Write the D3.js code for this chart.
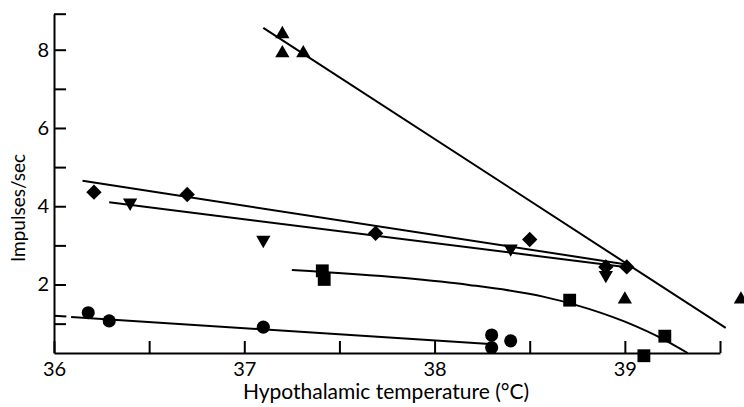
<!DOCTYPE html>
<html>
<head>
<meta charset="utf-8">
<script src="https://cdn.jsdelivr.net/npm/d3@7"></script>
<style>
  body { margin: 0; background: #fff; }
  svg text { font-family: Lato, "Open Sans", sans-serif; fill: #000; }
</style>
</head>
<body>
<svg id="chart" width="744" height="407"></svg>
<script>
// values: [temperature, impulses/sec]
const triangleUp = [[37.20, 8.40], [37.20, 7.91], [37.31, 7.91], [39.00, 1.62], [39.61, 1.62]];
const diamonds = [[36.21, 4.36], [36.70, 4.30], [37.69, 3.31], [38.50, 3.15], [38.90, 2.45], [39.01, 2.45]];
const triangleDown = [[36.40, 4.09], [37.10, 3.14], [38.40, 2.92], [38.90, 2.24]];
const squares = [[37.41, 2.35], [37.42, 2.13], [38.71, 1.60], [39.21, 0.68], [39.10, 0.18]];
const circles = [[36.18, 1.28], [36.29, 1.07], [37.10, 0.91], [38.30, 0.71], [38.40, 0.56], [38.30, 0.39]];

// fitted lines
const triangleFit = [[37.10, 8.56], [39.53, 0.89]];
const diamondFit = [[36.15, 4.65], [39.00, 2.52]];
const triDownFit = [[36.29, 4.10], [38.98, 2.46]];
const circleFit = [[36.09, 1.17], [38.29, 0.48]];
const circleFitDash = [[36.00, 1.20], [36.065, 1.18]];
const squareFit = [[37.25, 2.37], [37.83, 2.17], [38.18, 1.99], [38.57, 1.69], [38.74, 1.48], [39.00, 1.05], [39.21, 0.58], [39.33, 0.25]];

const xTicks = [36, 36.5, 37, 37.5, 38, 38.5, 39, 39.5];
const xLabels = [36, 37, 38, 39];
const yTicks = [1, 2, 3, 4, 5, 6, 7, 8, 8.92];
const yLabels = [2, 4, 6, 8];

const svg = d3.select("#chart");

const x = d3.scaleLinear().domain([36, 39.5]).range([54, 720]);
const y = d3.scaleLinear().domain([0.25, 8.92]).range([353, 13.7]);

// axes
const xAxis = svg.append("g")
    .attr("transform", `translate(0, ${y(0.25)})`)
    .call(d3.axisBottom(x)
        .tickValues(xTicks)
        .tickSizeInner(-12)
        .tickSizeOuter(0)
        .tickPadding(9)
        .tickFormat((d) => (xLabels.includes(d) ? d : "")));

const yAxis = svg.append("g")
    .attr("transform", `translate(${x(36)}, 0)`)
    .call(d3.axisLeft(y)
        .tickValues(yTicks)
        .tickSizeInner(-12)
        .tickSizeOuter(0)
        .tickPadding(5)
        .tickFormat((d) => (yLabels.includes(d) ? d : "")));

[xAxis, yAxis].forEach((g) => {
    g.select(".domain").attr("stroke", "#000").attr("stroke-width", 2);
    g.selectAll(".tick line").attr("stroke", "#000").attr("stroke-width", 2);
    g.selectAll(".tick text").attr("font-size", 20).attr("fill", "#000");
});

svg.append("text")
    .attr("x", 386)
    .attr("y", 399)
    .attr("text-anchor", "middle")
    .attr("font-size", 21)
    .text("Hypothalamic temperature (°C)");

svg.append("text")
    .attr("transform", "translate(25, 208) rotate(-90)")
    .attr("text-anchor", "middle")
    .attr("font-size", 19)
    .text("Impulses/sec");

// fitted lines
const line = d3.line().x((d) => x(d[0])).y((d) => y(d[1]));
const curve = d3.line().x((d) => x(d[0])).y((d) => y(d[1])).curve(d3.curveMonotoneX);

const lines = svg.append("g").attr("fill", "none").attr("stroke", "#000").attr("stroke-width", 2);
[triangleFit, diamondFit, triDownFit, circleFit, circleFitDash].forEach((pts) => {
    lines.append("path").attr("d", line(pts));
});
lines.append("path").attr("d", curve(squareFit));

// markers
const marks = svg.append("g").attr("fill", "#000");

function drawSymbols(pts, type, size, rotate) {
    const sym = d3.symbol().type(type).size(size);
    marks.selectAll(null)
        .data(pts)
        .join("path")
        .attr("d", sym)
        .attr("transform", (d) => `translate(${x(d[0])}, ${y(d[1])}) rotate(${rotate})`);
}

drawSymbols(triangleUp, d3.symbolTriangle, 88, 0);
drawSymbols(triangleDown, d3.symbolTriangle, 88, 180);
drawSymbols(diamonds, d3.symbolSquare, 118, 45);
drawSymbols(squares, d3.symbolSquare, 165, 0);
drawSymbols(circles, d3.symbolCircle, 135, 0);
</script>
</body>
</html>
